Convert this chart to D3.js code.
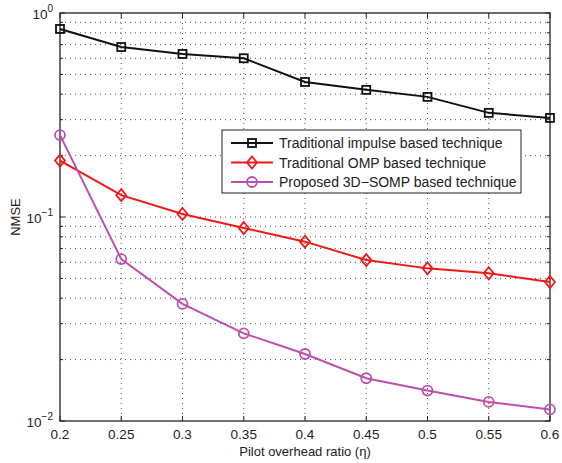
<!DOCTYPE html>
<html>
<head>
<meta charset="utf-8">
<script src="https://cdn.jsdelivr.net/npm/d3@7.9.0/dist/d3.min.js"></script>
<style>
  body { margin: 0; background: #fff; }
  svg { font-family: 'Liberation Sans', Arial, sans-serif; }
</style>
</head>
<body>
<svg id="chart" width="562" height="463"></svg>
<script>
// pilot overhead ratio
const ratios = [0.2, 0.25, 0.3, 0.35, 0.4, 0.45, 0.5, 0.55, 0.6];

// NMSE
const impulseNmse = [0.835, 0.681, 0.63, 0.60, 0.459, 0.42, 0.388, 0.324, 0.306];
const ompNmse = [0.189, 0.128, 0.1035, 0.0883, 0.0757, 0.0615, 0.056, 0.053, 0.048];
const somp3dNmse = [0.252, 0.0622, 0.0375, 0.0269, 0.0213, 0.0162, 0.0141, 0.0124, 0.0114];

const xTickLabels = ['0.2', '0.25', '0.3', '0.35', '0.4', '0.45', '0.5', '0.55', '0.6'];
const yDecades = [1e-2, 1e-1, 1];

const series = [
  { name: 'Traditional impulse based technique', values: impulseNmse, color: '#111', marker: 'square' },
  { name: 'Traditional OMP based technique', values: ompNmse, color: '#f01818', marker: 'diamond' },
  { name: 'Proposed 3D\u2212SOMP based technique', values: somp3dNmse, color: '#bd4fae', marker: 'circle' },
];

const margin = { left: 60, top: 13, right: 12, bottom: 42 };
const width = 562, height = 463;
const svg = d3.select('#chart');

const x = d3.scaleLinear().domain([0.2, 0.6]).range([margin.left, width - margin.right]);
const y = d3.scaleLog().domain([1e-2, 1]).range([height - margin.bottom, margin.top]);

const x0 = x.range()[0], x1 = x.range()[1];
const y0 = y.range()[0], y1 = y.range()[1];

// minor log ticks 2..9 in each decade
const minorTicks = [];
for (const d of [1e-2, 1e-1]) {
  for (let k = 2; k <= 9; k++) minorTicks.push(d * k);
}

// dotted grid
const grid = svg.append('g').attr('stroke', '#555').attr('stroke-width', 1)
  .attr('stroke-dasharray', '1,4');
grid.selectAll('.gx').data(ratios.slice(1, -1)).join('line')
  .attr('x1', (d) => x(d)).attr('x2', (d) => x(d))
  .attr('y1', y1).attr('y2', y0);
grid.selectAll('.gy').data(minorTicks.concat([1e-1])).join('line')
  .attr('x1', x0).attr('x2', x1)
  .attr('y1', (d) => y(d)).attr('y2', (d) => y(d));

// box
svg.append('rect').attr('x', x0).attr('y', y1)
  .attr('width', x1 - x0).attr('height', y0 - y1)
  .attr('fill', 'none').attr('stroke', '#222').attr('stroke-width', 1.3);

// inward ticks
const ticks = svg.append('g').attr('stroke', '#222').attr('stroke-width', 1);
ticks.selectAll('.tb').data(ratios).join('line')
  .attr('x1', (d) => x(d)).attr('x2', (d) => x(d))
  .attr('y1', y0).attr('y2', y0 - 5);
ticks.selectAll('.tt').data(ratios).join('line')
  .attr('x1', (d) => x(d)).attr('x2', (d) => x(d))
  .attr('y1', y1).attr('y2', y1 + 5);
const yAll = yDecades.map((d) => ({ v: d, len: 5 })).concat(minorTicks.map((d) => ({ v: d, len: 3 })));
ticks.selectAll('.tl').data(yAll).join('line')
  .attr('x1', x0).attr('x2', (d) => x0 + d.len)
  .attr('y1', (d) => y(d.v)).attr('y2', (d) => y(d.v));
ticks.selectAll('.tr').data(yAll).join('line')
  .attr('x1', x1).attr('x2', (d) => x1 - d.len)
  .attr('y1', (d) => y(d.v)).attr('y2', (d) => y(d.v));

// tick labels
svg.append('g').selectAll('text').data(ratios).join('text')
  .attr('x', (d) => x(d)).attr('y', y0 + 18)
  .attr('text-anchor', 'middle').attr('font-size', 13.5).attr('fill', '#222')
  .text((d, i) => xTickLabels[i]);

const yl = svg.append('g').selectAll('text').data(yDecades).join('text')
  .attr('x', x0 - 7).attr('y', (d) => y(d) + 6)
  .attr('text-anchor', 'end').attr('font-size', 13.5).attr('fill', '#222');
yl.append('tspan').text('10');
yl.append('tspan').attr('dy', -7).attr('font-size', 10)
  .text((d) => (Math.round(Math.log10(d)) === 0 ? '0' : '\u2212' + Math.abs(Math.round(Math.log10(d)))));

// axis titles
svg.append('text').attr('x', (x0 + x1) / 2).attr('y', 456)
  .attr('text-anchor', 'middle').attr('font-size', 13).attr('fill', '#222')
  .text('Pilot overhead ratio (\u03b7)');
svg.append('text').attr('transform', `translate(20,${(y0 + y1) / 2}) rotate(-90)`)
  .attr('text-anchor', 'middle').attr('font-size', 13).attr('fill', '#222')
  .text('NMSE');

function drawMarker(g, type, color) {
  if (type === 'square') {
    g.append('rect').attr('x', -4).attr('y', -4).attr('width', 8).attr('height', 8)
      .attr('fill', 'none').attr('stroke', color).attr('stroke-width', 1.8);
  } else if (type === 'diamond') {
    g.append('path').attr('d', 'M0,-6L5,0L0,6L-5,0Z')
      .attr('fill', 'none').attr('stroke', color).attr('stroke-width', 1.8);
  } else {
    g.append('circle').attr('r', 5)
      .attr('fill', 'none').attr('stroke', color).attr('stroke-width', 1.8);
  }
}

const line = d3.line().x((d) => x(d[0])).y((d) => y(d[1]));

series.forEach((s) => {
  const pts = ratios.map((r, i) => [r, s.values[i]]);
  svg.append('path').datum(pts).attr('d', line)
    .attr('fill', 'none').attr('stroke', s.color).attr('stroke-width', 2);
  pts.forEach((p) => {
    const g = svg.append('g').attr('transform', `translate(${x(p[0])},${y(p[1])})`);
    drawMarker(g, s.marker, s.color);
  });
});

// legend
const lg = svg.append('g').attr('transform', 'translate(222,130)');
lg.append('rect').attr('width', 299).attr('height', 63)
  .attr('fill', '#fff').attr('stroke', '#222').attr('stroke-width', 1);
series.forEach((s, i) => {
  const ly = 13 + i * 19.5;
  lg.append('line').attr('x1', 9).attr('x2', 51).attr('y1', ly).attr('y2', ly)
    .attr('stroke', s.color).attr('stroke-width', 2);
  drawMarker(lg.append('g').attr('transform', `translate(30,${ly})`), s.marker, s.color);
  lg.append('text').attr('x', 57).attr('y', ly + 5)
    .attr('font-size', 14).attr('fill', '#222').text(s.name);
});
</script>
</body>
</html>
